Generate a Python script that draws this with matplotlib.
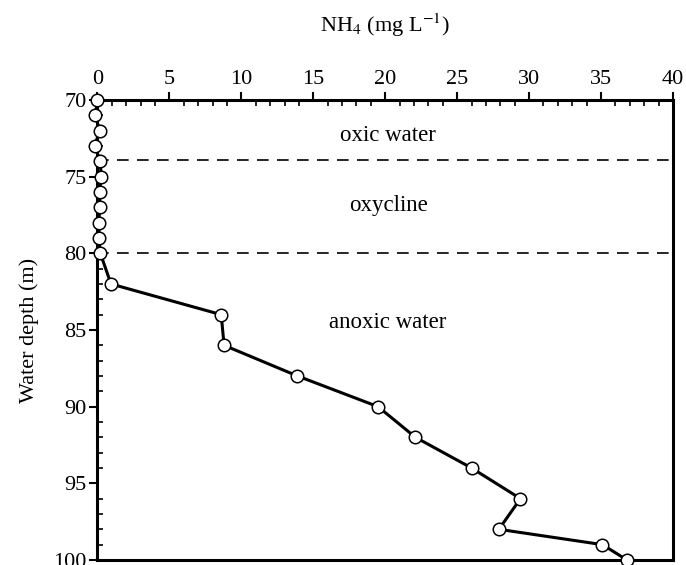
import matplotlib
matplotlib.use("Agg")
import matplotlib.pyplot as plt
from matplotlib.ticker import MultipleLocator

plt.rcParams['font.family'] = ['Liberation Serif', 'DejaVu Serif']
plt.rcParams['mathtext.fontset'] = 'stix'

# NH4 profile (mg/L) vs water depth (m)
depth = [70, 71, 72, 73, 74, 75, 76, 77, 78, 79, 80, 82, 84, 86, 88, 90, 92, 94, 96, 98, 99, 100]
nh4 = [0.0, -0.15, 0.15, -0.2, 0.2, 0.25, 0.15, 0.15, 0.1, 0.1, 0.2, 0.94,
       8.6, 8.8, 13.9, 19.5, 22.1, 26.0, 29.4, 27.9, 35.1, 36.8]

boundaries = [73.9, 80.0]
zone_names = ["oxic water", "oxycline", "anoxic water"]
zone_depths = [72.3, 76.85, 84.5]

fig = plt.figure(figsize=(6.86, 5.65), dpi=100)
ax = fig.add_axes([0.1421, 0.0089, 0.8389, 0.8141])

for b in boundaries:
    ax.axhline(b, color='black', lw=1.2, dashes=(7, 5))

ax.plot(nh4, depth, '-o', color='black', lw=2.2, ms=9,
        mfc='white', mec='black', mew=1.1, clip_on=False, zorder=5)

for name, d in zip(zone_names, zone_depths):
    ax.text(20.2, d, name, ha='center', va='center', fontsize=16.5)

ax.set_xlim(0, 40)
ax.set_ylim(100, 70)
ax.xaxis.set_major_locator(MultipleLocator(5))
ax.xaxis.set_minor_locator(MultipleLocator(1))
ax.yaxis.set_major_locator(MultipleLocator(5))
ax.yaxis.set_minor_locator(MultipleLocator(1))
ax.xaxis.tick_top()
ax.xaxis.set_label_position('top')
ax.tick_params(which='major', direction='out', length=6, width=1.5, labelsize=16, pad=2)
ax.tick_params(which='minor', direction='in', length=4, width=1.2)
ax.tick_params(axis='x', which='both', bottom=False)
ax.tick_params(axis='y', which='both', right=False)
for s in ax.spines.values():
    s.set_linewidth(2.2)

ax.set_xlabel(r"NH$_4$ (mg L$^{-1}$)", fontsize=16, labelpad=27)
ax.set_ylabel("Water depth (m)", fontsize=16, labelpad=10)

fig.savefig("out.png", dpi=100)
